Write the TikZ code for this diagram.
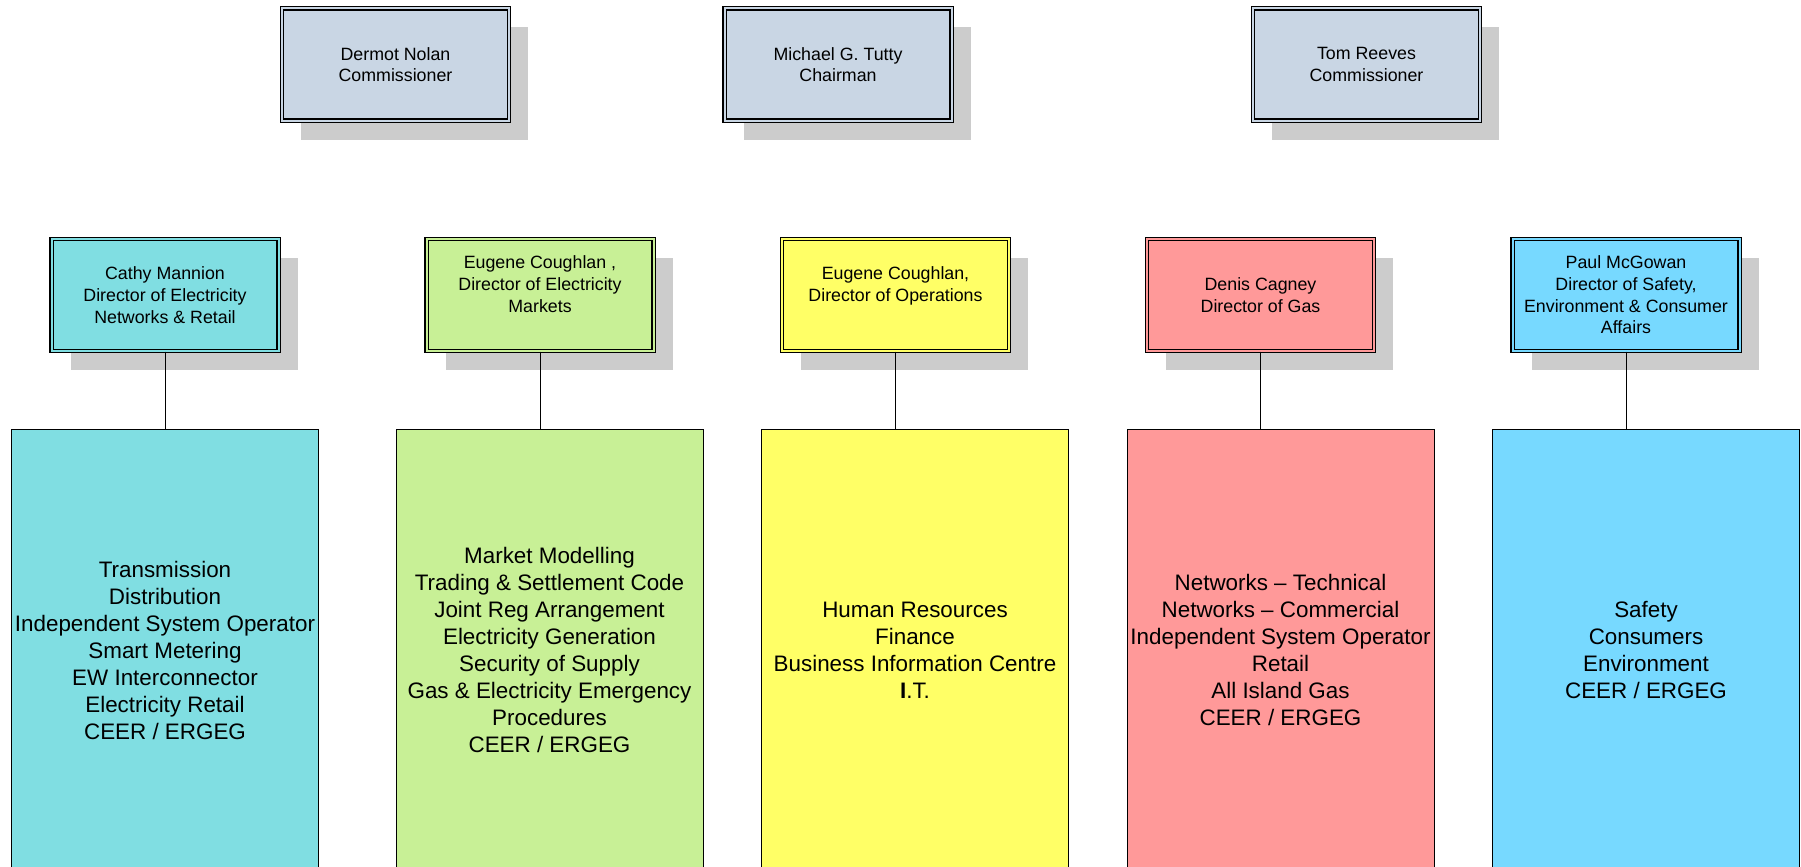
\documentclass[tikz,border=0pt]{standalone}
\usepackage{fontspec}
\setmainfont{Liberation Sans}
\usetikzlibrary{positioning,shadows}

\definecolor{boardblue}{RGB}{201,214,228}
\definecolor{netcyan}{RGB}{128,222,226}
\definecolor{mktgreen}{RGB}{200,240,150}
\definecolor{opsyellow}{RGB}{255,255,102}
\definecolor{gaspink}{RGB}{255,153,153}
\definecolor{safeblue}{RGB}{119,217,255}
\definecolor{shadowgrey}{RGB}{204,204,204}

\begin{document}
\begin{tikzpicture}[x=1pt,y=-1pt,semithick,
	head/.style={draw=black,line width=1.4pt,double=#1,double distance=2pt,fill=#1,
		minimum width=227pt,minimum height=112pt,inner sep=0pt,align=center,
		font=\fontsize{17.8}{21.7}\selectfont,
		drop shadow={shadow xshift=19pt,shadow yshift=-19pt,fill=shadowgrey,opacity=1}},
	area/.style={draw=black,line width=1pt,fill=#1,minimum width=307pt,minimum height=442pt,
		inner sep=0pt,align=center,font=\fontsize{22.4}{27}\selectfont}]
		\useasboundingbox (0,0) rectangle (1801,867);

		% board
		\node[head=boardblue] (C0) at (395.5,64.5) {Dermot Nolan\\Commissioner};
		\node[head=boardblue] (C1) at (838,64.5) {Michael G. Tutty\\Chairman};
		\node[head=boardblue] (C2) at (1366.5,64.5) {Tom Reeves\\Commissioner};

		% directors
		\node[head=netcyan] (D0) at (165,295) {Cathy Mannion\\Director of Electricity\\Networks \& Retail};
		\node[head=mktgreen] (D1) at (540,295) {Eugene Coughlan ,\\Director of Electricity\\Markets\\\mbox{}};
		\node[head=opsyellow] (D2) at (895.5,295) {Eugene Coughlan,\\Director of Operations\\\mbox{}};
		\node[head=gaspink] (D3) at (1260.5,295) {Denis Cagney\\Director of Gas};
		\node[head=safeblue] (D4) at (1626,295) {Paul McGowan\\Director of Safety,\\Environment \& Consumer\\Affairs};

		% areas
		\node[area=netcyan] (A0) at (165,650) {Transmission\\Distribution\\Independent System Operator\\Smart Metering\\EW Interconnector\\Electricity Retail\\CEER / ERGEG};
		\node[area=mktgreen] (A1) [right=76.5pt of A0] {Market Modelling\\Trading \& Settlement Code\\Joint Reg Arrangement\\Electricity Generation\\Security of Supply\\Gas \& Electricity Emergency\\Procedures\\CEER / ERGEG};
		\node[area=opsyellow] (A2) [right=57.5pt of A1] {Human Resources\\Finance\\Business Information Centre\\\textbf{I}.T.};
		\node[area=gaspink] (A3) [right=57.5pt of A2] {Networks -- Technical\\Networks -- Commercial\\Independent System Operator\\Retail\\All Island Gas\\CEER / ERGEG};
		\node[area=safeblue] (A4) [right=57.5pt of A3] {Safety\\Consumers\\Environment\\CEER / ERGEG};

		\draw (D0.south) -- (D0.south |- A0.north);
		\draw (D1.south) -- (D1.south |- A1.north);
		\draw (D2.south) -- (D2.south |- A2.north);
		\draw (D3.south) -- (D3.south |- A3.north);
		\draw (D4.south) -- (D4.south |- A4.north);
	\end{tikzpicture}
\end{document}
